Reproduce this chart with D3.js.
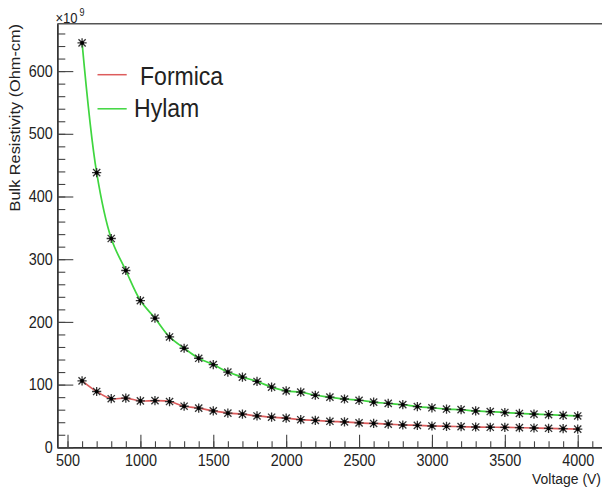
<!DOCTYPE html>
<html>
<head>
<meta charset="utf-8">
<script src="https://cdn.jsdelivr.net/npm/d3@7"></script>
<style>
  html, body { margin: 0; padding: 0; background: #fff; }
  svg { display: block; }
  text { font-family: "Liberation Sans", Arial, Helvetica, sans-serif; fill: #222; }
</style>
</head>
<body>
<svg id="chart" width="602" height="489"></svg>
<script>
// ---- data ----
const voltages = [600, 700, 800, 900, 1000, 1100, 1200, 1300, 1400, 1500,
  1600, 1700, 1800, 1900, 2000, 2100, 2200, 2300, 2400, 2500,
  2600, 2700, 2800, 2900, 3000, 3100, 3200, 3300, 3400, 3500,
  3600, 3700, 3800, 3900, 4000];
const formica = [106, 89, 77.5, 78.5, 74, 74.5, 73, 65.5, 62.5, 58,
  54.5, 53, 50, 48, 46.5, 44, 43, 41.5, 40.5, 39,
  38, 37, 35.6, 35, 34, 33.5, 33, 32.4, 32, 31.9,
  31.3, 30.8, 30.3, 29.7, 29];
const hylam = [645, 438, 333, 282, 234, 206, 176, 158, 142, 132,
  120, 112, 105, 96, 90, 88, 83, 80, 77, 75,
  72, 70, 68, 65, 63, 61, 60, 58, 57, 55.5,
  54, 53, 52, 51, 50];
const xMajorTicks = [500, 1000, 1500, 2000, 2500, 3000, 3500, 4000];
const xMinorTicks = [500, 600, 700, 800, 900, 1000, 1100, 1200, 1300, 1400, 1500, 1600, 1700, 1800, 1900, 2000, 2100, 2200, 2300, 2400, 2500, 2600, 2700, 2800, 2900, 3000, 3100, 3200, 3300, 3400, 3500, 3600, 3700, 3800, 3900, 4000, 4100];
const yMajorTicks = [0, 100, 200, 300, 400, 500, 600];
const yMinorTicks = [0, 20, 40, 60, 80, 100, 120, 140, 160, 180, 200, 220, 240, 260, 280, 300, 320, 340, 360, 380, 400, 420, 440, 460, 480, 500, 520, 540, 560, 580, 600, 620, 640, 660];
const seriesNames = ["Formica", "Hylam"];
const seriesColors = ["#dd5c5c", "#3fd63f"];
const xTitle = "Voltage (V)";
const yTitle = "Bulk Resistivity (Ohm-cm)";

// ---- layout ----
const svg = d3.select("#chart");
const fLeft = 57.3, fRight = 602.5, fTop = 23.7, fBottom = 447.3;
const SX = 0.9;

const x = d3.scaleLinear().domain([430, 4170]).range([fLeft, fRight]);
const y = d3.scaleLinear().domain([0, 675.6]).range([fBottom, fTop]);

// frame top
svg.append("line").attr("x1", fLeft).attr("x2", fRight).attr("y1", fTop).attr("y2", fTop)
  .attr("stroke", "#555").attr("stroke-width", 1.5);

// axes
function styleAxis(g) {
  g.selectAll("path.domain").attr("stroke", "#333").attr("stroke-width", 1.4);
  g.selectAll(".tick line").attr("stroke", "#444").attr("stroke-width", 1.1);
}
const fmt = d3.format("d");
const gxMinor = svg.append("g").attr("transform", `translate(0,${fBottom})`)
  .call(d3.axisBottom(x).tickValues(xMinorTicks).tickSize(-6).tickSizeOuter(0).tickFormat(""));
const gx = svg.append("g").attr("transform", `translate(0,${fBottom})`)
  .call(d3.axisBottom(x).tickValues(xMajorTicks).tickSize(-12.5).tickSizeOuter(0).tickPadding(7).tickFormat(fmt));
const gyMinor = svg.append("g").attr("transform", `translate(${fLeft},0)`)
  .call(d3.axisLeft(y).tickValues(yMinorTicks).tickSize(-8).tickSizeOuter(0).tickFormat(""));
const gy = svg.append("g").attr("transform", `translate(${fLeft},0)`)
  .call(d3.axisLeft(y).tickValues(yMajorTicks).tickSize(-16).tickSizeOuter(0).tickPadding(5).tickFormat(fmt));
[gxMinor, gx, gyMinor, gy].forEach(styleAxis);
[gx, gy].forEach(g => {
  g.attr("font-size", null).attr("font-family", null);
  g.selectAll(".tick text").attr("font-size", 16).attr("fill", "#222")
    .attr("transform", `scale(${SX},1)`);
});

// helper for squeezed text
function label(str, tx, ty, size, anchor, rot) {
  return svg.append("text")
    .attr("transform", `translate(${tx},${ty}) scale(${SX},1)` + (rot ? ` rotate(${rot})` : ""))
    .attr("font-size", size).attr("text-anchor", anchor).text(str);
}

// titles
label(xTitle, 601, 484, 15.5, "end");
label(yTitle, 19.5, 24, 16.3, "end", -90);

// exponent
label("\u00d710", 55.5, 22.5, 14.5, "start");
label("9", 79.5, 16, 10, "start");

// lines
const line = d3.line().x((d, i) => x(voltages[i])).y(d => y(d)).curve(d3.curveCatmullRom.alpha(0.5));
const allSeries = [formica, hylam];
allSeries.forEach((s, k) => {
  svg.append("path").datum(s).attr("d", line).attr("fill", "none")
    .attr("stroke", seriesColors[k]).attr("stroke-width", 1.7);
});

// markers (asterisk)
const r = 4.6, rd = 3.6;
allSeries.forEach(s => {
  const g = svg.append("g").selectAll("g").data(s).join("g")
    .attr("transform", (d, i) => `translate(${x(voltages[i])},${y(d)})`);
  g.append("path")
    .attr("d", `M${-r},0L${r},0M0,${-r}L0,${r}M${-rd},${-rd}L${rd},${rd}M${-rd},${rd}L${rd},${-rd}`)
    .attr("stroke", "#333").attr("stroke-width", 1.3).attr("fill", "none");
  g.append("circle").attr("r", 1.9).attr("fill", "#000");
});

// legend
const legY = [74.7, 108.8];
const legTextX = [140, 134];
const legBase = [84.5, 117.3];
seriesNames.forEach((n, k) => {
  svg.append("line").attr("x1", 97.5).attr("x2", 126.7).attr("y1", legY[k]).attr("y2", legY[k])
    .attr("stroke", seriesColors[k]).attr("stroke-width", 1.5);
  label(n, legTextX[k], legBase[k], 25.6, "start");
});
</script>
</body>
</html>
